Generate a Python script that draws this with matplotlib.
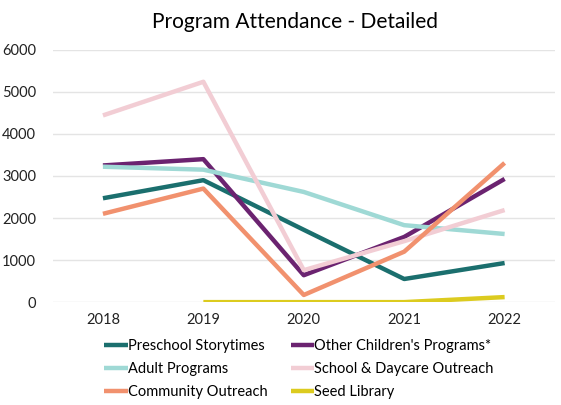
import numpy as np
import matplotlib.pyplot as plt

plt.rcParams['font.family'] = ['Lato', 'DejaVu Sans']

years = [2018, 2019, 2020, 2021, 2022]
preschool = [2470, 2900, 1720, 550, 930]
other_kids = [3250, 3400, 640, 1550, 2930]
adult = [3220, 3150, 2620, 1830, 1620]
school_daycare = [4440, 5240, 760, 1450, 2190]
community = [2100, 2700, 170, 1200, 3310]
seed_library = [np.nan, 0, 0, 0, 120]

series = [
    ("Preschool Storytimes", preschool, "#1b6f6e"),
    ("Other Children's Programs*", other_kids, "#6b2370"),
    ("Adult Programs", adult, "#9fd9d5"),
    ("School & Daycare Outreach", school_daycare, "#f2cdd4"),
    ("Community Outreach", community, "#f1916e"),
    ("Seed Library", seed_library, "#dccb1f"),
]

fig = plt.figure(figsize=(5.61, 4.05), dpi=100)
ax = fig.add_axes([0.094, 0.254, 0.895, 0.623])

lines = []
for name, vals, col in series:
    ln, = ax.plot(years, vals, color=col, lw=3.2, label=name, solid_capstyle='butt')
    lines.append(ln)

ax.set_xlim(2017.5, 2022.5)
ax.set_ylim(0, 6000)
ax.set_xticks(years)
ax.set_yticks(range(0, 6001, 1000))
ax.grid(axis='y', color='#e4e4e4', lw=1)
ax.set_axisbelow(True)
for s in ax.spines.values():
    s.set_visible(False)
ax.tick_params(length=0, labelsize=10.5, colors='#222222', pad=8)
ax.tick_params(axis='y', pad=12)

fig.suptitle("Program Attendance - Detailed", fontsize=15, y=0.97, x=0.525)

# legend fills row by row in the reference
order = [0, 2, 4, 1, 3, 5]
ax.legend([lines[i] for i in order], [series[i][0] for i in order],
          loc='upper center', bbox_to_anchor=(0.49, -0.095), ncol=2, frameon=False,
          fontsize=10.5, handlelength=1.6, handletextpad=0.0, columnspacing=1.6,
          labelspacing=0.62)

fig.savefig("out.png", dpi=100)
